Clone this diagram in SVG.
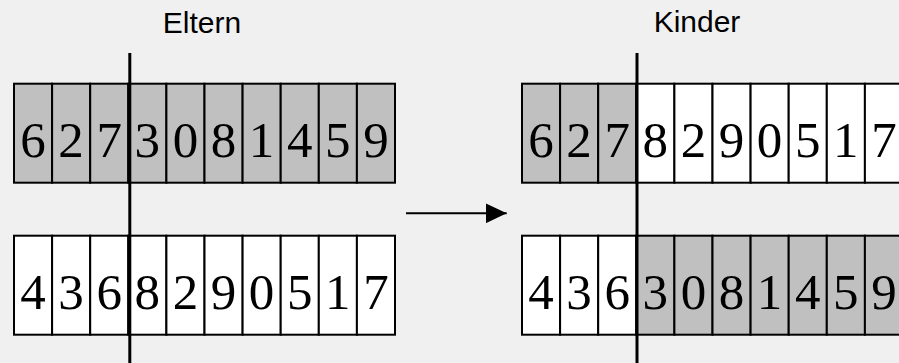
<svg xmlns="http://www.w3.org/2000/svg" width="899" height="363" viewBox="0 0 899 363">
  <style>
    .cell { stroke: #000; stroke-width: 2; }
    .p { fill: #c0c0c0; }
    .w { fill: #ffffff; }
    .d { font-family: "Liberation Serif", "Times New Roman", serif; font-size: 51px; text-anchor: middle; fill: #000; }
    .title { font-family: "Liberation Sans", Arial, sans-serif; font-size: 30px; text-anchor: middle; fill: #000; }
    .cut { stroke: #000; stroke-width: 3; }
    .conn { stroke: #000; stroke-width: 2; fill: none; }
  </style>
  <defs>
    <marker id="head" markerWidth="21" markerHeight="20" refX="21" refY="10" orient="auto" markerUnits="userSpaceOnUse">
      <path d="M0,0 L21,10 L0,20 Z" fill="#000"/>
    </marker>
  </defs>
  <rect x="0" y="0" width="899" height="363" fill="#f0f0f0"/>

  <text class="title" x="202" y="33">Eltern</text>
  <text class="title" x="697" y="32">Kinder</text>

  <!-- parent 1 -->
  <g id="parent1">
    <rect class="cell p" x="14" y="83.7" width="38.1" height="99"/>
    <rect class="cell p" x="52.1" y="83.7" width="38.1" height="99"/>
    <rect class="cell p" x="90.2" y="83.7" width="38.1" height="99"/>
    <rect class="cell p" x="128.3" y="83.7" width="38.1" height="99"/>
    <rect class="cell p" x="166.4" y="83.7" width="38.1" height="99"/>
    <rect class="cell p" x="204.5" y="83.7" width="38.1" height="99"/>
    <rect class="cell p" x="242.6" y="83.7" width="38.1" height="99"/>
    <rect class="cell p" x="280.7" y="83.7" width="38.1" height="99"/>
    <rect class="cell p" x="318.8" y="83.7" width="38.1" height="99"/>
    <rect class="cell p" x="356.9" y="83.7" width="38.1" height="99"/>
    <text class="d" y="157"><tspan x="33">6</tspan><tspan x="71.1">2</tspan><tspan x="109.2">7</tspan><tspan x="147.3">3</tspan><tspan x="185.4">0</tspan><tspan x="223.5">8</tspan><tspan x="261.6">1</tspan><tspan x="299.7">4</tspan><tspan x="337.8">5</tspan><tspan x="375.9">9</tspan></text>
  </g>

  <!-- parent 2 -->
  <g id="parent2">
    <rect class="cell w" x="14" y="235.7" width="38.1" height="99"/>
    <rect class="cell w" x="52.1" y="235.7" width="38.1" height="99"/>
    <rect class="cell w" x="90.2" y="235.7" width="38.1" height="99"/>
    <rect class="cell w" x="128.3" y="235.7" width="38.1" height="99"/>
    <rect class="cell w" x="166.4" y="235.7" width="38.1" height="99"/>
    <rect class="cell w" x="204.5" y="235.7" width="38.1" height="99"/>
    <rect class="cell w" x="242.6" y="235.7" width="38.1" height="99"/>
    <rect class="cell w" x="280.7" y="235.7" width="38.1" height="99"/>
    <rect class="cell w" x="318.8" y="235.7" width="38.1" height="99"/>
    <rect class="cell w" x="356.9" y="235.7" width="38.1" height="99"/>
    <text class="d" y="309"><tspan x="33">4</tspan><tspan x="71.1">3</tspan><tspan x="109.2">6</tspan><tspan x="147.3">8</tspan><tspan x="185.4">2</tspan><tspan x="223.5">9</tspan><tspan x="261.6">0</tspan><tspan x="299.7">5</tspan><tspan x="337.8">1</tspan><tspan x="375.9">7</tspan></text>
  </g>

  <!-- child 1 -->
  <g id="child1">
    <rect class="cell p" x="522" y="83.7" width="38.1" height="99"/>
    <rect class="cell p" x="560.1" y="83.7" width="38.1" height="99"/>
    <rect class="cell p" x="598.2" y="83.7" width="38.1" height="99"/>
    <rect class="cell w" x="636.3" y="83.7" width="38.1" height="99"/>
    <rect class="cell w" x="674.4" y="83.7" width="38.1" height="99"/>
    <rect class="cell w" x="712.5" y="83.7" width="38.1" height="99"/>
    <rect class="cell w" x="750.6" y="83.7" width="38.1" height="99"/>
    <rect class="cell w" x="788.7" y="83.7" width="38.1" height="99"/>
    <rect class="cell w" x="826.8" y="83.7" width="38.1" height="99"/>
    <rect class="cell w" x="864.9" y="83.7" width="38.1" height="99"/>
    <text class="d" y="157"><tspan x="541">6</tspan><tspan x="579.1">2</tspan><tspan x="617.2">7</tspan><tspan x="655.3">8</tspan><tspan x="693.4">2</tspan><tspan x="731.5">9</tspan><tspan x="769.6">0</tspan><tspan x="807.7">5</tspan><tspan x="845.8">1</tspan><tspan x="883.9">7</tspan></text>
  </g>

  <!-- child 2 -->
  <g id="child2">
    <rect class="cell w" x="522" y="235.7" width="38.1" height="99"/>
    <rect class="cell w" x="560.1" y="235.7" width="38.1" height="99"/>
    <rect class="cell w" x="598.2" y="235.7" width="38.1" height="99"/>
    <rect class="cell p" x="636.3" y="235.7" width="38.1" height="99"/>
    <rect class="cell p" x="674.4" y="235.7" width="38.1" height="99"/>
    <rect class="cell p" x="712.5" y="235.7" width="38.1" height="99"/>
    <rect class="cell p" x="750.6" y="235.7" width="38.1" height="99"/>
    <rect class="cell p" x="788.7" y="235.7" width="38.1" height="99"/>
    <rect class="cell p" x="826.8" y="235.7" width="38.1" height="99"/>
    <rect class="cell p" x="864.9" y="235.7" width="38.1" height="99"/>
    <text class="d" y="309"><tspan x="541">4</tspan><tspan x="579.1">3</tspan><tspan x="617.2">6</tspan><tspan x="655.3">3</tspan><tspan x="693.4">0</tspan><tspan x="731.5">8</tspan><tspan x="769.6">1</tspan><tspan x="807.7">4</tspan><tspan x="845.8">5</tspan><tspan x="883.9">9</tspan></text>
  </g>

  <!-- crossover points -->
  <line class="cut" x1="129.8" y1="53" x2="129.8" y2="363"/>
  <line class="cut" x1="637" y1="53" x2="637" y2="363"/>

  <g id="connectors">
    <line class="conn" x1="406" y1="213.3" x2="506.7" y2="213.3" marker-end="url(#head)"/>
  </g>
</svg>
